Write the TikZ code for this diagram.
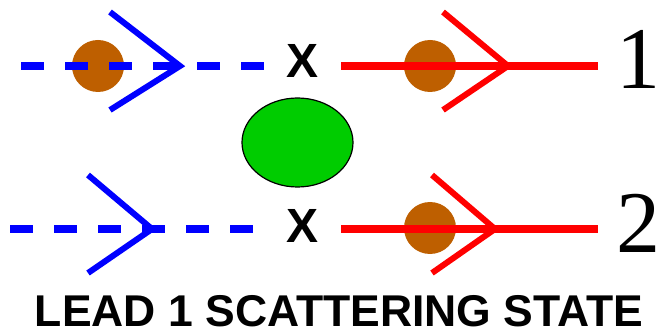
\documentclass[tikz,border=0pt]{standalone}
\usepackage{fontspec}
\setmainfont{Liberation Serif}
\setsansfont{Liberation Sans}
\usetikzlibrary{shapes,arrows,positioning}
\definecolor{bronze}{RGB}{190,95,0}
\definecolor{dotgreen}{RGB}{0,204,0}
\tikzstyle{inlead} = [draw=blue, line width=8pt, dash pattern=on 23pt off 21pt]
\tikzstyle{outlead} = [draw=red, line width=7.5pt]
\tikzstyle{chev} = [line width=6pt, line join=miter]
\tikzstyle{packet} = [circle, fill=bronze, inner sep=0pt, minimum size=52pt]
\tikzstyle{contact} = [font=\sffamily\bfseries\fontsize{48}{48}\selectfont, inner sep=0pt, anchor=base]
\tikzstyle{leadno} = [font=\fontsize{88}{88}\selectfont, inner sep=0pt, anchor=base east]

\begin{document}
\begin{tikzpicture}[x=1pt, y=-1pt]
			\useasboundingbox (0,0) rectangle (661,331);

			% wave packets sit under the leads
			\node [packet] (p1) at (98,66) {};
			\node [packet] (p2) at (430,66) {};
			\node [packet] (p3) at (430,228) {};

			\node [contact] (x1) at (303,78) {X};
			\node [contact] (x2) at (303,242) {X};
			\node [draw, ellipse, fill=dotgreen, line width=1.2pt, minimum width=111pt, minimum height=89pt, inner sep=0pt] (dot) at (297.5,142.5) {};

			\coordinate (in1) at (21,66);
			\coordinate (in1end) at (266,66);
			\coordinate (in2) at (10,229);
			\coordinate (in2end) at (254,229);
			\coordinate (out1) at (341,66);
			\coordinate (out1end) at (598,66);
			\coordinate (out2) at (341,229);
			\coordinate (out2end) at (598,229);

			\path [inlead] (in1) -- (in1end);
			\path [inlead] (in2) -- (in2end);
			\path [outlead] (out1) -- (out1end);
			\path [outlead] (out2) -- (out2end);

			% direction marks
			\draw [chev, blue] (110,12) -- (180,66) -- (110,110);
			\draw [chev, blue] (88,175) -- (152,229) -- (88,273);
			\draw [chev, red] (443,12) -- (508,66) -- (443,110);
			\draw [chev, red] (432,175) -- (495,229) -- (432,273);

			\node [leadno] (n1) at (661,89) {1};
			\node [leadno] (n2) at (661,252) {2};
			\node [font=\sffamily\bfseries\fontsize{44.5}{44.5}\selectfont, inner sep=0pt, anchor=base] (title) at (339,326) {LEAD 1 SCATTERING STATE};
		\end{tikzpicture}
\end{document}
